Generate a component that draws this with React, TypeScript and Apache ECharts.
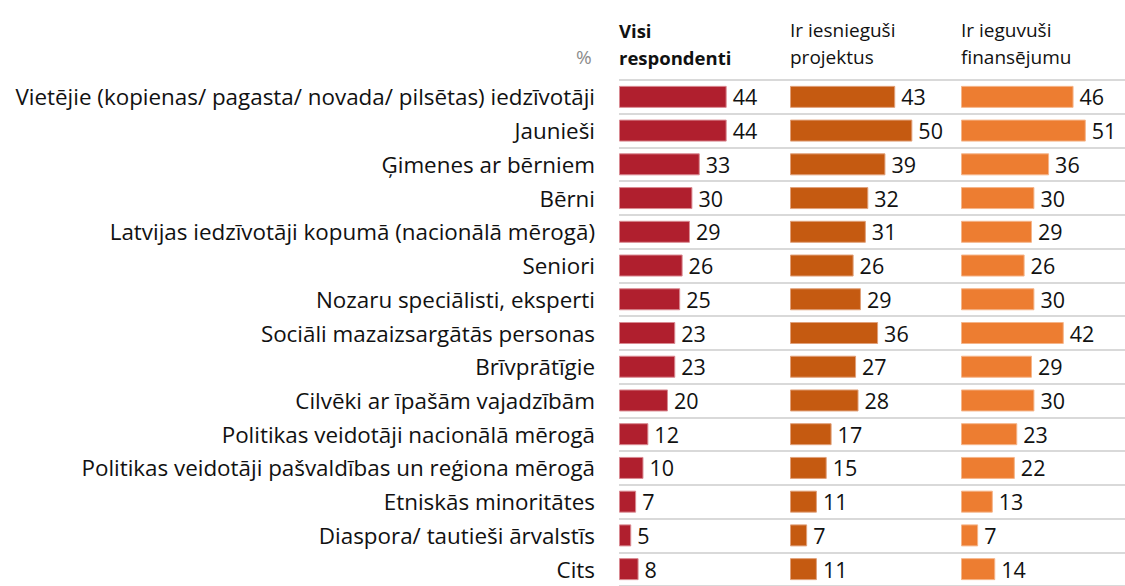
import React, { useEffect, useRef } from "react";
import * as echarts from "echarts";

const categories = [
  "Vietējie (kopienas/ pagasta/ novada/ pilsētas) iedzīvotāji",
  "Jaunieši",
  "Ģimenes ar bērniem",
  "Bērni",
  "Latvijas iedzīvotāji kopumā (nacionālā mērogā)",
  "Seniori",
  "Nozaru speciālisti, eksperti",
  "Sociāli mazaizsargātās personas",
  "Brīvprātīgie",
  "Cilvēki ar īpašām vajadzībām",
  "Politikas veidotāji nacionālā mērogā",
  "Politikas veidotāji pašvaldības un reģiona mērogā",
  "Etniskās minoritātes",
  "Diaspora/ tautieši ārvalstīs",
  "Cits",
];

const visiRespondenti = [44, 44, 33, 30, 29, 26, 25, 23, 23, 20, 12, 10, 7, 5, 8];
const irIesniegusi = [43, 50, 39, 32, 31, 26, 29, 36, 27, 28, 17, 15, 11, 7, 11];
const irIeguvusi = [46, 51, 36, 30, 29, 26, 30, 42, 29, 30, 23, 22, 13, 7, 14];

const seriesNames = ["Visi respondenti", "Ir iesnieguši projektus", "Ir ieguvuši finansējumu"];
const headerLines = [["Visi", "respondenti"], ["Ir iesnieguši", "projektus"], ["Ir ieguvuši", "finansējumu"]];
const colors = ["#B01F2E", "#C55A11", "#ED7D31"];
const borderColors = ["#D98A92", "#E0A07A", "#F5B58A"];
const FONT = "Open Sans";

export default function App() {
  const ref = useRef<HTMLDivElement>(null);
  useEffect(() => {
    if (!ref.current) return;
    const chart = echarts.init(ref.current, undefined, { renderer: "svg" });
    const pxPerUnit = 2.447;
    const lefts = [619, 790, 961];
    const widths = [171, 171, 164];
    const dataSets = [visiRespondenti, irIesniegusi, irIeguvusi];
    const grids = lefts.map((l, i) => ({ left: l, top: 80, width: widths[i], height: 511 }));
    const xAxes = lefts.map((_, i) => ({
      type: "value",
      gridIndex: i,
      min: 0,
      max: widths[i] / pxPerUnit,
      show: false,
    }));
    const yAxes = lefts.map((_, i) => ({
      type: "category",
      gridIndex: i,
      data: categories,
      inverse: true,
      axisLine: { show: false },
      axisTick: { show: false },
      splitLine: { show: true, lineStyle: { color: "#D9D9D9", width: 2 } },
      axisLabel: i === 0
        ? { show: true, fontFamily: FONT, fontSize: 22.4, color: "#111", margin: 24 }
        : { show: false },
    }));
    const series = dataSets.map((d, i) => ({
      type: "bar",
      name: seriesNames[i],
      xAxisIndex: i,
      yAxisIndex: i,
      data: d,
      barWidth: 22,
      itemStyle: { color: colors[i], borderColor: borderColors[i], borderWidth: 1 },
      label: {
        show: true,
        position: "right",
        distance: 6,
        fontFamily: FONT,
        fontSize: 21.5,
        color: "#111",
      },
    }));
    const graphics: any[] = [];
    headerLines.forEach((lines, i) => {
      lines.forEach((t, j) => {
        graphics.push({
          type: "text",
          x: lefts[i],
          y: 30 + j * 27,
          style: {
            text: t,
            fontFamily: FONT,
            fontSize: i === 0 ? 18.5 : 19,
            fontWeight: i === 0 ? "bold" : "normal",
            fill: "#111",
            verticalAlign: "middle",
          },
        });
      });
    });
    graphics.push({
      type: "text",
      x: 576,
      y: 57,
      style: { text: "%", fontFamily: FONT, fontSize: 19, fill: "#8C8C8C", verticalAlign: "middle" },
    });
    chart.setOption({
      animation: false,
      backgroundColor: "#fff",
      grid: grids,
      xAxis: xAxes,
      yAxis: yAxes,
      series,
      graphic: graphics,
    });
    return () => chart.dispose();
  }, []);
  return (
    <div
      ref={ref}
      style={{ position: "fixed", left: 0, top: 0, width: 1125, height: 586 }}
    />
  );
}
